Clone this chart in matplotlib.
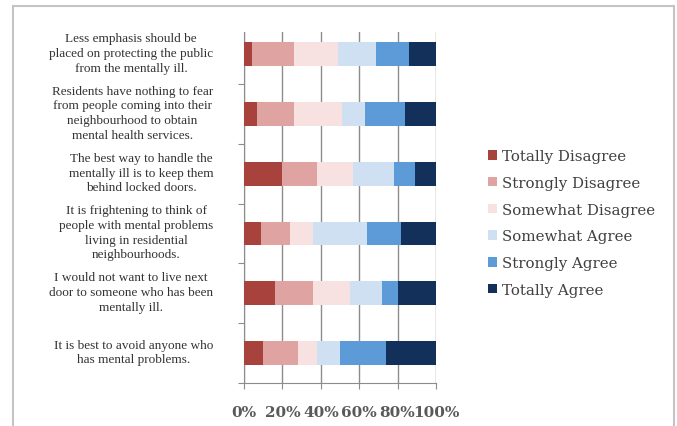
import matplotlib
matplotlib.use("Agg")
import matplotlib.pyplot as plt
from matplotlib.patches import Patch, Rectangle
import numpy as np

statements = [
    "Less emphasis should be\nplaced on protecting the public\nfrom the mentally ill.",
    "Residents have nothing to fear\nfrom people coming into their\nneighbourhood to obtain\nmental health services.",
    "The best way to handle the\nmentally ill is to keep them\nbehind locked doors.",
    "It is frightening to think of\npeople with mental problems\nliving in residential\nneighbourhoods.",
    "I would not want to live next\ndoor to someone who has been\nmentally ill.",
    "It is best to avoid anyone who\nhas mental problems.",
]

responses = ["Totally Disagree", "Strongly Disagree", "Somewhat Disagree",
             "Somewhat Agree", "Strongly Agree", "Totally Agree"]

# percentage of respondents per statement (rows) and response (columns)
totally_disagree  = [4, 7, 20, 9, 16, 10]
strongly_disagree = [22, 19, 18, 15, 20, 18]
somewhat_disagree = [23, 25, 19, 12, 19, 10]
somewhat_agree    = [20, 12, 21, 28, 17, 12]
strongly_agree    = [17, 21, 11, 18, 8, 24]
totally_agree     = [14, 16, 11, 18, 20, 26]

colors = ["#a8423d", "#dfa3a2", "#f8e1e1", "#cfe0f2", "#5c9bd8", "#13305a"]

series = [totally_disagree, strongly_disagree, somewhat_disagree,
          somewhat_agree, strongly_agree, totally_agree]

fig = plt.figure(figsize=(6.77, 4.27), dpi=100)
ax = fig.add_axes([244 / 677, 1 - 384 / 427, 192 / 677, 351 / 427])

data = np.array(series, dtype=float)
shares = data / data.sum(axis=0) * 100
n = len(statements)
y = np.arange(n)[::-1]
left = np.zeros(n)
for vals, col, name in zip(shares, colors, responses):
    ax.barh(y, vals, left=left, height=0.40, color=col, label=name, zorder=3)
    left += vals

ax.set_xlim(0, 100)
ax.set_ylim(-0.5, n - 0.63)
ax.set_xticks(np.arange(0, 101, 20))
ax.set_xticklabels([f"{v}%" for v in range(0, 101, 20)],
                   fontsize=11, color="#595959", family="DejaVu Serif",
                   fontweight="bold")
ax.tick_params(axis="x", length=4, color="#8c8c8c", pad=12)
ax.set_yticks(np.arange(-0.5, n - 1, 1.0))
ax.set_yticklabels([])
ax.tick_params(axis="y", length=4, color="#8c8c8c")
ax.grid(axis="x", color="#8c8c8c", linewidth=1.0, zorder=0)
for s in ["top", "right"]:
    ax.spines[s].set_visible(False)
for s in ["left", "bottom"]:
    ax.spines[s].set_color("#8c8c8c")

for yi, text in zip(y, statements):
    ax.text(-16, yi + 0.02, text, ha="right", va="center",
            multialignment="center", fontsize=9.5, color="#333333",
            family="Liberation Serif", linespacing=1.3)

handles = [Patch(facecolor=c, label=n_) for c, n_ in zip(colors, responses)]
fig.legend(handles=handles, loc="center left",
           bbox_to_anchor=(474 / 677, 1 - 224 / 427), frameon=False,
           handlelength=0.6, handleheight=0.6, handletextpad=0.4,
           labelspacing=0.85,
           prop={"family": "DejaVu Serif", "size": 10.8}, labelcolor="#404040")

fig.patches.append(Rectangle((13 / 677, -0.01), 661 / 677, 1 - 7 / 427 + 0.01,
                             transform=fig.transFigure, fill=False,
                             edgecolor="#c4c4c4", linewidth=1.5))

fig.savefig("out.png", dpi=100)
